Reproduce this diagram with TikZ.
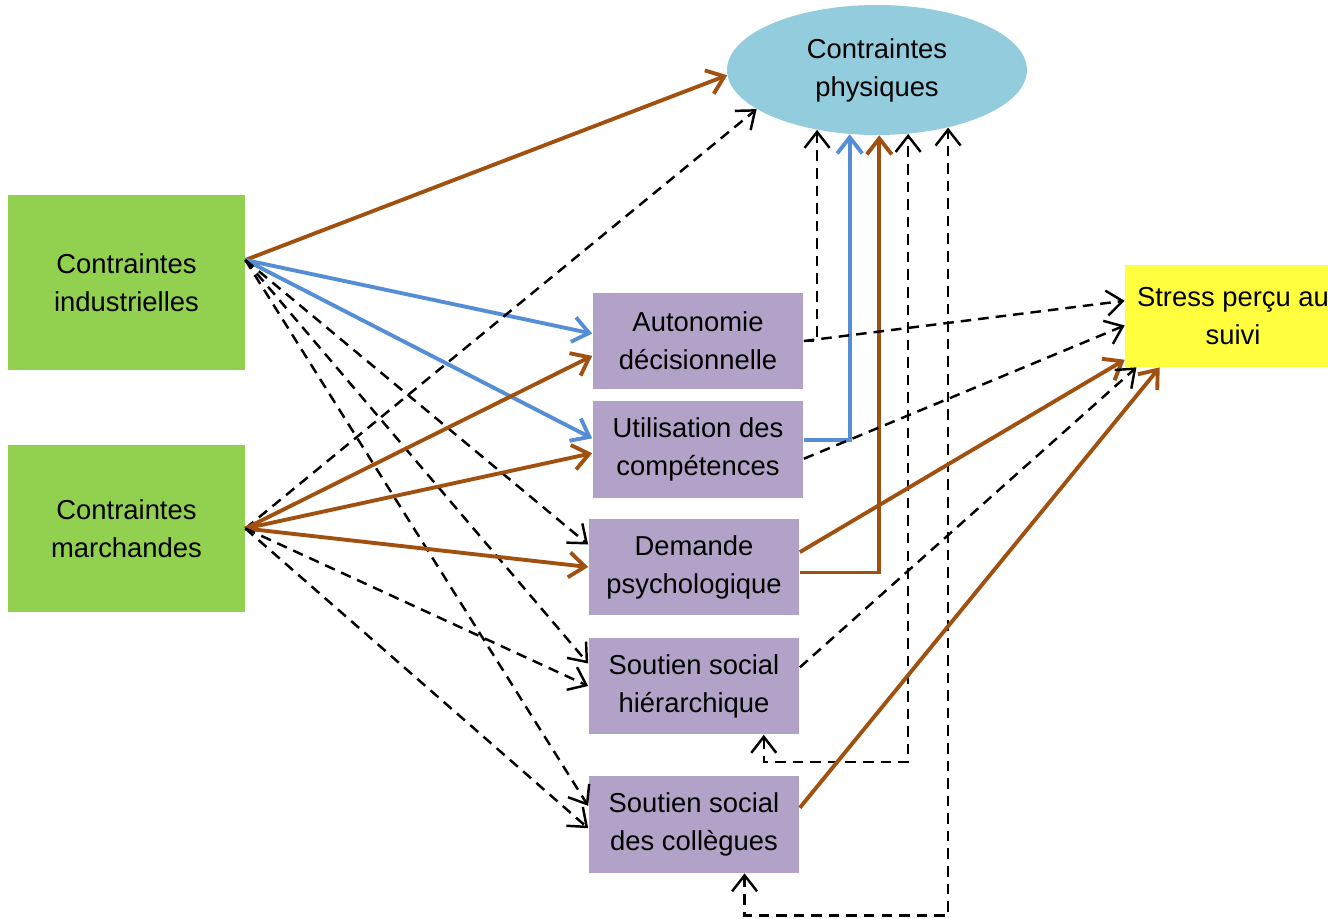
\documentclass[tikz,border=0pt]{standalone}
\usepackage{fontspec}
\setmainfont{Liberation Sans}
\usetikzlibrary{shapes.geometric,arrows.meta}
\definecolor{cgreen}{HTML}{92D050}
\definecolor{cpurple}{HTML}{B3A2C7}
\definecolor{cphys}{HTML}{93CDDD}
\definecolor{cyellow}{HTML}{FFFF40}
\definecolor{cbrown}{HTML}{A0500F}
\definecolor{cblue}{HTML}{558ED5}
\begin{document}
\begin{tikzpicture}[x=0.02cm,y=-0.02cm,>={Straight Barb[length=3.2mm,width=5mm]}]
\tikzstyle{box}=[rectangle,align=center,inner sep=0pt,font=\fontsize{15.6}{21.6}\selectfont]
\tikzstyle{cause}=[box,fill=cgreen,minimum width=4.74cm]
\tikzstyle{med}=[box,fill=cpurple,minimum width=4.22cm,minimum height=1.94cm]
\tikzstyle{brownarr}=[draw=cbrown,line width=2.2pt,->]
\tikzstyle{bluearr}=[draw=cblue,line width=2.2pt,->]
\tikzstyle{dasharr}=[draw=black,line width=1.4pt,dash pattern=on 6pt off 4pt,->]
\useasboundingbox (0,0) rectangle (1328,919);

\node[cause,minimum height=3.5cm] at (126.5,282.5) (ind) {Contraintes\\industrielles};
\node[cause,minimum height=3.34cm] at (126.5,528.5) (mar) {Contraintes\\marchandes};
\node[box,ellipse,fill=cphys,minimum width=6cm,minimum height=2.6cm] at (877,70) (phy) {Contraintes\\physiques};
\node[med] at (698,341) (aut) {Autonomie\\décisionnelle};
\node[med] at (698,449.5) (uti) {Utilisation des\\compétences};
\node[med] at (694,567) (dem) {Demande\\psychologique};
\node[med] at (694,686) (hie) {Soutien social\\hiérarchique};
\node[med] at (694,824.5) (col) {Soutien social\\des collègues};
\node[box,fill=cyellow,minimum width=4.32cm,minimum height=2.04cm] at (1233,316) (str) {Stress perçu au\\suivi};
\coordinate (io) at ([yshift=0.45cm]ind.east);

% contraintes industrielles
\draw[brownarr] (io) -- (phy.182);
\draw[bluearr] (io) -- (aut.176);
\draw[bluearr] (io) -- (uti.174);
\draw[dasharr] (io) -- (dem.168);
\draw[dasharr] (io) -- (hie.168);
\draw[dasharr] (io) -- (col.170);

% contraintes marchandes
\draw[dasharr] (mar.east) -- (phy.198);
\draw[brownarr] (mar.east) -- (aut.188);
\draw[brownarr] (mar.east) -- (uti.182);
\draw[brownarr] (mar.east) -- (dem.west);
\draw[dasharr] (mar.east) -- (hie.west);
\draw[dasharr] (mar.east) -- (col.182);

% vers contraintes physiques
\draw[dasharr] (aut.east) -| (phy.225);
\draw[bluearr] (uti.5) -| (phy.247);
\draw[brownarr] (dem.357) -| (phy.272);
\draw[dasharr,<->] (hie.325) -- ++(0,27) -| (phy.296);
\draw[dasharr,<->] (col.316) -- ++(0,42) -| (phy.321);

% vers le stress
\draw[dasharr] (aut.east) -- (str.172);
\draw[dasharr] (uti.355) -- (str.185);
\draw[brownarr] (dem.8) -- (str.202);
\draw[dasharr] (hie.10) -- (str.208);
\draw[brownarr] (col.9) -- (str.215);
\end{tikzpicture}
\end{document}
